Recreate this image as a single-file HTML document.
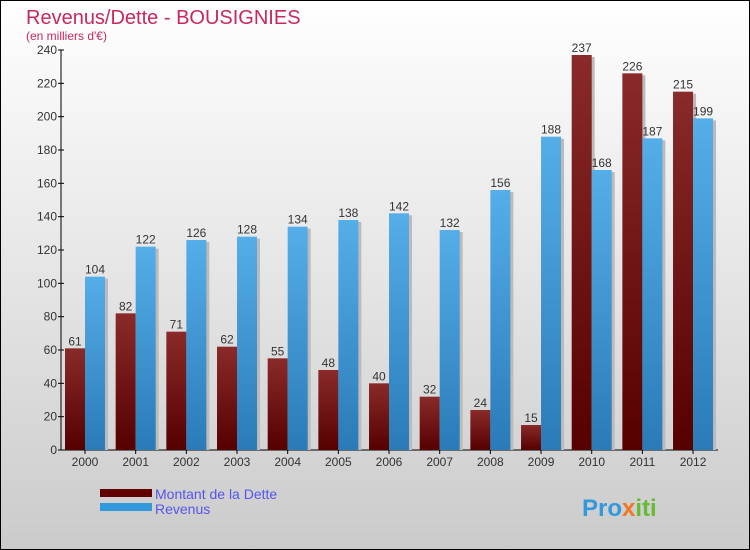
<!DOCTYPE html>
<html><head><meta charset="utf-8"><style>
body{margin:0;width:750px;height:550px;overflow:hidden;font-family:"Liberation Sans",sans-serif}
svg{display:block}
</style></head><body>
<svg id="c" width="750" height="550">
<defs>
<linearGradient id="bg" x1="0" y1="0" x2="0" y2="1"><stop offset="0" stop-color="#ffffff"/><stop offset="1" stop-color="#cbcbcb"/></linearGradient>
<linearGradient id="gd" x1="0" y1="0" x2="0" y2="1"><stop offset="0" stop-color="#8a2a2a"/><stop offset="1" stop-color="#560000"/></linearGradient>
<linearGradient id="gr" x1="0" y1="0" x2="0" y2="1"><stop offset="0" stop-color="#55aee8"/><stop offset="1" stop-color="#2a7bb8"/></linearGradient>
</defs>
<rect x="0.5" y="0.5" width="749" height="549" fill="url(#bg)" stroke="#000"/>
<text x="26" y="24" font-size="20" fill="#c8285e">Revenus/Dette - BOUSIGNIES</text>
<text x="26" y="40" font-size="12" fill="#c8285e">(en milliers d'€)</text>
<g id="plot"></g>
<rect x="100" y="489" width="52" height="8" fill="#600000"/>
<rect x="100" y="503" width="52" height="8" fill="#3399dd"/>
<text x="155" y="499" font-size="14" fill="#5555ee">Montant de la Dette</text>
<text x="155" y="514" font-size="14" fill="#5555ee">Revenus</text>
<text x="582" y="516" font-size="24" font-weight="bold" fill="#3399dd">Pro<tspan fill="#ee7722">x</tspan><tspan fill="#66bb33">iti</tspan></text>
</svg>
<script>
const years=["2000","2001","2002","2003","2004","2005","2006","2007","2008","2009","2010","2011","2012"];
const dette=[61,82,71,62,55,48,40,32,24,15,237,226,215];
const revenus=[104,122,126,128,134,138,142,132,156,188,168,187,199];
const yTicks=[0,20,40,60,80,100,120,140,160,180,200,220,240];
const NS="http://www.w3.org/2000/svg";
const g=document.getElementById('plot');
const x0=61,y0=450,yTop=50,yMax=240,step=50.67,first=85;
const ys=v=>y0-(v/yMax)*(y0-yTop);
function el(t,a,txt){const e=document.createElementNS(NS,t);for(const k in a)e.setAttribute(k,a[k]);if(txt!=null)e.textContent=txt;g.appendChild(e);return e;}
let ax=el('line',{x1:x0,y1:yTop,x2:x0,y2:y0,stroke:'#000'});


let bx=el('line',{x1:x0,y1:y0,x2:718,y2:y0,stroke:'#000'});


yTicks.forEach(v=>{
 const t=el('line',{x1:x0-3,y1:ys(v),x2:x0+3,y2:ys(v),stroke:'#000'});
 
 
 const l=el('text',{x:x0-4,y:ys(v)+4,'font-size':12,'text-anchor':'end',fill:'#333'},v);
 
 
});
years.forEach((yr,i)=>{
 const c=first+i*step;
 [[dette[i],c-20,'url(#gd)','bar-dette'],[revenus[i],c,'url(#gr)','bar-revenus']].forEach(([v,x,f,n])=>{
  const s=el('rect',{x:x+3,y:ys(v)+2,width:20,height:y0-ys(v)-2,fill:'#bbb'});
  
  
  const r=el('rect',{x:x,y:ys(v),width:20,height:y0-ys(v),fill:f});
  
  
  const t=el('text',{x:x+10,y:ys(v)-3,'font-size':12,'text-anchor':'middle',fill:'#333'},v);
  
  
 });
 const tk=el('line',{x1:c,y1:y0,x2:c,y2:y0+4,stroke:'#000'});
 
 
 const l=el('text',{x:c,y:y0+16,'font-size':12,'text-anchor':'middle',fill:'#333'},yr);
 
 
});
</script>
</body></html>
